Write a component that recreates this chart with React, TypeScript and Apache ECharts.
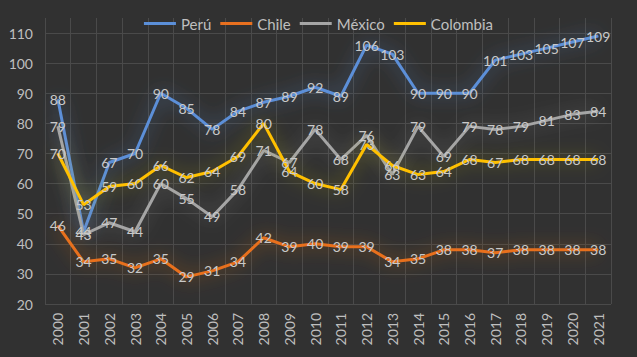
import React, { useEffect, useRef } from "react";
import * as echarts from "echarts";

const years = ["2000","2001","2002","2003","2004","2005","2006","2007","2008","2009","2010","2011","2012","2013","2014","2015","2016","2017","2018","2019","2020","2021"];
const peru = [88, 44, 67, 70, 90, 85, 78, 84, 87, 89, 92, 89, 106, 103, 90, 90, 90, 101, 103, 105, 107, 109];
const chile = [46, 34, 35, 32, 35, 29, 31, 34, 42, 39, 40, 39, 39, 34, 35, 38, 38, 37, 38, 38, 38, 38];
const mexico = [79, 43, 47, 44, 60, 55, 49, 58, 71, 67, 78, 68, 76, 63, 79, 69, 79, 78, 79, 81, 83, 84];
const colombia = [70, 53, 59, 60, 66, 62, 64, 69, 80, 64, 60, 58, 73, 66, 63, 64, 68, 67, 68, 68, 68, 68];

const seriesDefs = [
  { name: "Perú", data: peru, color: "#5b8fd8", glow: "rgba(91,143,216,0.7)" },
  { name: "Chile", data: chile, color: "#e8701f", glow: "rgba(232,112,31,0.7)" },
  { name: "México", data: mexico, color: "#a5a5a5", glow: "rgba(150,150,150,0.6)" },
  { name: "Colombia", data: colombia, color: "#ffc000", glow: "rgba(190,180,40,0.6)" },
];

const FONT = "Lato, 'Noto Sans', sans-serif";

export default function App() {
  const ref = useRef<HTMLDivElement>(null);
  useEffect(() => {
    if (!ref.current) return;
    const chart = echarts.init(ref.current, null, { renderer: "svg" });
    const gridColors = ["#4a4a4a","#4a4a4a","#4a4a4a","#4a4a4a","#4a4a4a","#4a4a4a","#4a4a4a","#4a4a4a","#4a4a4a","#4a4a4a","rgba(0,0,0,0)"];
    chart.setOption({
      animation: false,
      backgroundColor: "#313131",
      textStyle: { fontFamily: FONT },
      legend: {
        top: 11,
        left: "center",
        icon: "rect",
        itemWidth: 32,
        itemHeight: 3,
        itemGap: 9,
        textStyle: { color: "#bfbfbf", fontSize: 15, fontFamily: FONT },
        data: seriesDefs.map((s) => s.name),
      },
      grid: { left: 45, right: 26, top: 18, bottom: 53 },
      xAxis: {
        type: "category",
        data: years,
        boundaryGap: true,
        axisLine: { show: false },
        axisTick: { show: false },
        splitLine: { show: true, interval: 0, lineStyle: { color: "#4a4a4a", width: 1 } },
        axisLabel: { rotate: 90, color: "#bfbfbf", fontSize: 14, fontFamily: FONT, margin: 9, interval: 0 },
      },
      yAxis: {
        type: "value",
        min: 20,
        max: 115,
        interval: 10,
        axisLine: { show: false },
        axisTick: { show: false },
        splitLine: { show: true, lineStyle: { color: gridColors, width: 1 } },
        axisLabel: {
          color: "#bfbfbf",
          fontSize: 14,
          fontFamily: FONT,
          margin: 12,
          showMaxLabel: false,
          formatter: (v: number) => (v > 110 ? "" : String(v)),
        },
      },
      series: seriesDefs.map((s) => ({
        name: s.name,
        type: "line",
        data: s.data,
        symbol: "circle",
        symbolSize: 1,
        showSymbol: true,
        color: s.color,
        itemStyle: { color: s.color },
        lineStyle: { color: s.color, width: 3, shadowBlur: 18, shadowColor: s.glow },
        label: {
          show: true,
          position: "inside",
          color: "#c9c9c9",
          fontSize: 14,
          fontFamily: FONT,
        },
        labelLayout: { hideOverlap: false },
      })),
    });
    return () => chart.dispose();
  }, []);
  return (
    <div
      ref={ref}
      style={{ position: "fixed", left: 0, top: 0, width: 637, height: 357 }}
    />
  );
}
